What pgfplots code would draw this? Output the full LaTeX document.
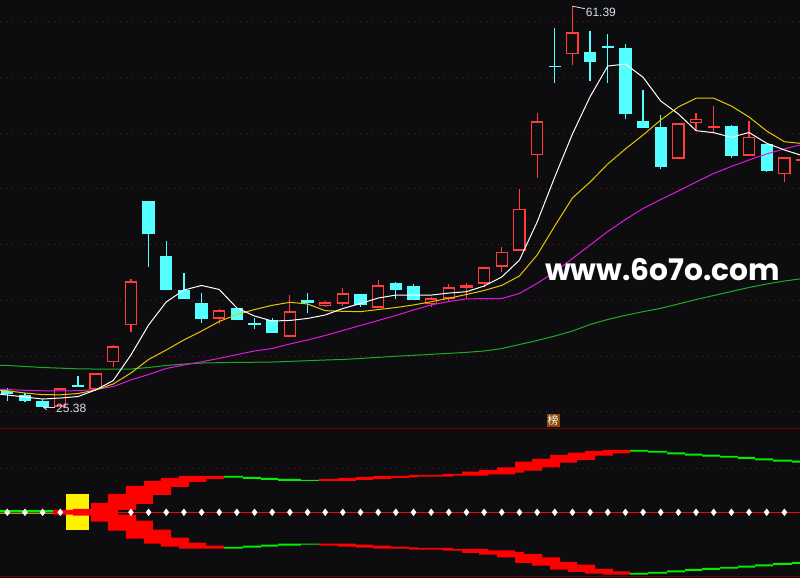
\documentclass[border=0pt]{standalone}
\usepackage{pgfplots}
\pgfplotsset{compat=1.18}
\usepackage{pgfplotstable}
\usetikzlibrary{arrows.meta}
\usepackage{fontspec}
\setmainfont{Liberation Sans}
\newfontfamily\cjk{Noto Sans CJK SC}
\newfontfamily\wmfont{Poppins}

\definecolor{bg}{RGB}{13,13,16}
\definecolor{upred}{RGB}{255,61,61}
\definecolor{dncyan}{RGB}{84,255,255}
\definecolor{maw}{RGB}{255,255,255}
\definecolor{may}{RGB}{230,200,0}
\definecolor{mam}{RGB}{224,24,224}
\definecolor{mag}{RGB}{30,170,40}
\definecolor{gridred}{RGB}{130,20,20}
\definecolor{sepred}{RGB}{115,0,0}
\definecolor{bandred}{RGB}{255,0,0}
\definecolor{bandgreen}{RGB}{0,240,0}
\definecolor{lbl}{RGB}{210,225,240}
\definecolor{tagbrown}{RGB}{140,70,10}

% candles: x = day, o h l c
\pgfplotstableread{
x o h l c
3 25.45 27.10 25.45 27.10
5 27.01 28.45 27.01 28.45
6 29.43 30.99 29.04 30.87
7 32.76 36.88 32.18 36.70
12 33.35 34.22 32.87 34.10
16 31.73 35.47 31.73 34.01
18 34.51 34.96 34.37 34.82
19 34.69 36.10 34.51 35.63
21 34.33 36.82 34.33 36.35
24 34.67 35.32 34.42 35.18
25 35.14 36.46 34.82 36.17
26 36.13 36.55 35.11 36.35
27 36.49 37.96 36.22 37.96
28 38.01 39.75 37.57 39.33
29 39.45 44.99 39.45 43.19
30 48.01 51.78 46.00 51.06
32 57.07 61.39 56.14 59.05
38 47.71 50.88 47.71 50.88
39 50.88 51.78 50.22 51.27
40 50.49 52.43 50.13 50.61
42 47.97 51.06 47.97 49.65
44 46.31 47.83 45.64 47.83
45 47.55 47.70 47.50 47.62
}\up

\pgfplotstableread{
x o h l c
0 26.89 27.13 25.99 26.59
1 26.50 26.71 25.90 25.99
2 25.96 26.14 25.38 25.42
4 27.35 28.21 27.24 27.32
8 43.91 43.91 38.01 40.97
9 38.97 40.32 35.95 35.95
10 35.92 37.42 35.14 35.14
11 34.76 35.65 32.99 33.32
13 34.31 34.31 33.23 33.23
14 32.93 33.41 32.42 32.90
15 33.20 33.38 32.09 32.09
17 35.03 35.65 33.89 34.76
20 35.56 35.56 34.37 34.58
22 36.55 36.64 35.11 35.92
23 36.28 36.46 35.03 35.03
31 56.02 59.43 54.53 55.98
33 57.28 59.19 54.71 56.41
34 57.78 58.90 54.53 57.74
35 57.61 57.99 51.30 51.74
36 51.09 53.87 50.49 50.49
37 50.55 51.63 46.75 46.99
41 50.64 50.70 47.80 47.97
43 49.02 49.02 46.51 46.59
}\dn

% moving averages
\pgfplotstableread{
x ma5 ma10 ma20 ma60
-1 26.68 26.99 27.01 29.19
0 26.50 26.88 26.99 29.15
1 26.32 26.68 26.92 29.06
2 26.14 26.53 26.88 28.97
3 26.23 26.52 26.86 28.91
4 26.36 26.63 26.89 28.85
5 26.95 26.95 26.99 28.83
6 27.80 27.49 27.26 28.83
7 30.09 28.47 27.85 28.83
8 32.78 29.69 28.34 28.97
9 34.85 30.54 28.88 29.15
10 35.92 31.44 29.19 29.28
11 36.33 32.24 29.48 29.37
12 35.97 33.10 29.79 29.40
13 34.31 33.72 30.13 29.43
14 33.59 34.17 30.45 29.44
15 33.14 34.55 30.67 29.46
16 33.19 34.82 31.08 29.52
17 33.37 34.67 31.44 29.58
18 33.68 34.07 31.84 29.64
19 34.26 34.01 32.29 29.69
20 34.71 33.98 32.74 29.78
21 35.20 34.17 33.19 29.88
22 35.47 34.35 33.63 29.98
23 35.47 34.58 34.13 30.06
24 35.47 34.87 34.58 30.15
25 35.65 35.18 34.89 30.24
26 35.77 35.52 35.12 30.33
27 36.28 35.88 35.16 30.45
28 37.09 36.34 35.16 30.67
29 38.61 37.18 35.61 31.03
30 42.02 39.06 36.52 31.39
31 46.06 41.67 37.54 31.79
32 49.92 44.18 38.75 32.24
33 53.27 45.61 39.96 32.83
34 56.02 47.23 41.17 33.28
35 56.20 48.58 42.25 33.65
36 55.01 49.83 43.24 33.98
37 52.88 51.18 44.04 34.28
38 51.72 52.35 44.81 34.67
39 50.22 53.13 45.61 35.07
40 50.04 53.13 46.38 35.43
41 49.63 52.43 47.01 35.79
42 50.06 51.45 47.59 36.15
43 49.09 50.19 48.13 36.46
44 48.49 49.23 48.59 36.73
45 47.99 49.07 48.98 36.94
}\ma

% indicator ribbon, upper half as closed outlines (lower half is the mirror)
\pgfplotstableread{
x v
-0.5 2.0
2.59 2.0
2.59 0
-0.5 0
}\gA
\pgfplotstableread{
x v
2.59 2.3
3.72 2.3
3.72 3.3
4.74 3.3
4.74 9.3
5.70 9.3
5.70 18.3
6.72 18.3
6.72 26.3
7.74 26.3
7.74 31.3
8.70 31.3
8.70 34.3
9.72 34.3
9.72 36.3
12.27 36.3
12.27 33.3
11.25 33.3
11.25 30.3
10.29 30.3
10.29 25.3
9.27 25.3
9.27 17.3
8.25 17.3
8.25 8.3
7.29 8.3
7.29 2.3
6.27 2.3
6.27 0
2.59 0
}\rA
\pgfplotstableread{
x v
12.27 36.3
13.35 36.3
13.35 35.3
14.37 35.3
14.37 34.3
15.33 34.3
15.33 33.3
16.63 33.3
16.63 32.3
17.65 32.3
17.65 31.3
15.33 31.3
15.33 32.3
14.37 32.3
14.37 33.3
13.35 33.3
13.35 34.6
12.27 34.6
}\gB
\pgfplotstableread{
x v
17.65 33.3
18.72 33.3
18.72 34.3
19.75 34.3
19.75 35.3
20.71 35.3
20.71 36.3
22.75 36.3
22.75 37.3
24.67 37.3
24.67 38.3
25.75 38.3
25.75 40.6
26.71 40.6
26.71 42.3
27.73 42.3
27.73 45.0
28.75 45.0
28.75 50.6
29.71 50.6
29.71 53.3
30.73 53.3
30.73 57.3
31.75 57.3
31.75 59.6
32.71 59.6
32.71 61.3
33.73 61.3
33.73 62.3
35.26 62.3
35.26 59.0
34.29 59.0
34.29 56.6
33.28 56.6
33.28 52.3
32.26 52.3
32.26 49.6
31.30 49.6
31.30 45.0
30.28 45.0
30.28 41.6
29.26 41.6
29.26 39.6
28.75 39.6
28.75 38.0
27.22 38.0
27.22 36.6
25.24 36.6
25.24 35.6
23.26 35.6
23.26 35.0
22.75 35.0
22.75 34.3
21.73 34.3
21.73 33.3
20.71 33.3
20.71 32.3
19.75 32.3
19.75 31.3
17.65 31.3
}\rB
\pgfplotstableread{
x v
35.26 62.3
36.28 62.3
36.28 61.3
37.36 61.3
37.36 60.0
38.38 60.0
38.38 58.6
39.34 58.6
39.34 57.6
40.36 57.6
40.36 56.3
41.38 56.3
41.38 55.3
42.34 55.3
42.34 54.0
43.36 54.0
43.36 52.6
44.44 52.6
44.44 51.6
45.50 51.6
45.50 49.6
44.44 49.6
44.44 50.6
43.36 50.6
43.36 52.0
42.34 52.0
42.34 53.3
41.38 53.3
41.38 54.6
40.36 54.6
40.36 55.6
39.34 55.6
39.34 56.6
38.38 56.6
38.38 58.0
37.36 58.0
37.36 59.6
36.28 59.6
36.28 60.6
35.26 60.6
}\gC

\pgfplotsset{
  panel/.style={
    scale only axis, width=800pt,
    xmin=-0.413, xmax=44.886,
    axis line style={draw=none},
    xtick=\empty, ytick=\empty,
  },
  gridline/.style={gridred, line width=1pt, dash pattern=on 1pt off 5pt, forget plot},
  candle/.style 2 args={#1, draw=none, mark=none, forget plot,
    error bars/.cd, y dir=both, y explicit, error mark=none,
    error bar style={draw=#1, solid, line width=#2}},
  ribbon/.style={fill=#1, draw=none, forget plot},
}

\begin{document}
\begin{tikzpicture}
\useasboundingbox (0,0) rectangle (800pt,578pt);
\fill[bg] (0,0) rectangle (800pt,578pt);

\begin{axis}[panel, at={(0pt,150pt)}, anchor=south west, height=428pt,
  ymin=23.54, ymax=61.947]
% price grid every 5
\pgfplotsinvokeforeach{25,30,35,40,45,50,55,60}{
  \addplot[gridline] coordinates {(-0.413,#1) (44.886,#1)};
}
% wicks
\addplot[candle={upred}{1.2pt}] table[x=x, y expr={(\thisrow{h}+\thisrow{l})/2},
  y error expr={(\thisrow{h}-\thisrow{l})/2}] {\up};
\addplot[candle={dncyan}{1.2pt}] table[x=x, y expr={(\thisrow{h}+\thisrow{l})/2},
  y error expr={(\thisrow{h}-\thisrow{l})/2}] {\dn};
% bodies
\addplot[candle={dncyan}{12.4pt}] table[x=x, y expr={(\thisrow{o}+\thisrow{c})/2},
  y error expr={max(abs(\thisrow{o}-\thisrow{c})/2,0.065)}] {\dn};
\addplot[candle={upred}{12.4pt}] table[x=x, y expr={(\thisrow{o}+\thisrow{c})/2},
  y error expr={max(abs(\thisrow{o}-\thisrow{c})/2,0.065)}] {\up};
\addplot[candle={bg}{10pt}] table[x=x, y expr={(\thisrow{o}+\thisrow{c})/2},
  y error expr={max(abs(\thisrow{o}-\thisrow{c})/2-0.12,0)}] {\up};
% moving averages
\addplot[mag, line width=1pt, mark=none] table[x=x, y=ma60] {\ma};
\addplot[mam, line width=1pt, mark=none] table[x=x, y=ma20] {\ma};
\addplot[may, line width=1pt, mark=none] table[x=x, y=ma10] {\ma};
\addplot[maw, line width=1pt, mark=none] table[x=x, y=ma5] {\ma};
% high / low marks
\draw[lbl, line width=0.8pt] (axis cs:32,61.39) -- (axis cs:32.7,61.17);
\node[lbl, anchor=west, inner sep=0pt, font=\fontsize{12}{12}\selectfont] at (axis cs:32.75,60.87) {61.39};
\draw[lbl, line width=0.8pt, -{Straight Barb[length=3pt,width=5pt]}] (axis cs:2.72,25.40) -- (axis cs:2.02,25.40);
\node[lbl, anchor=west, inner sep=0pt, font=\fontsize{12}{12}\selectfont] at (axis cs:2.76,25.33) {25.38};
\node[fill=tagbrown, text=white, inner sep=1pt, font=\cjk\fontsize{11}{11}\selectfont] at (axis cs:30.9,24.21) {榜};
\node[anchor=base west, inner sep=0pt, text=white] at (axis cs:30.45,36.82)
  {\resizebox{235pt}{!}{\wmfont\bfseries www.6o7o.com}};
\end{axis}

\begin{axis}[panel, at={(0pt,0pt)}, anchor=south west, height=150pt,
  ymin=-65.7, ymax=84.3]
\addplot[gridline] coordinates {(-0.413,44) (44.886,44)};
\addplot[sepred, line width=1pt, forget plot] coordinates {(-0.413,83.8) (44.886,83.8)};
\addplot[sepred, line width=1pt, forget plot] coordinates {(-0.413,-63.7) (44.886,-63.7)};
\addplot[yellow, line width=23pt, forget plot] coordinates {(4,18.3) (4,-17.7)};
\addplot[ribbon=bandgreen] table[x=x, y=v] {\gA} -- cycle;
\addplot[ribbon=bandred]   table[x=x, y=v] {\rA} -- cycle;
\addplot[ribbon=bandgreen] table[x=x, y=v] {\gB} -- cycle;
\addplot[ribbon=bandred]   table[x=x, y=v] {\rB} -- cycle;
\addplot[ribbon=bandgreen] table[x=x, y=v] {\gC} -- cycle;
\addplot[ribbon=bandgreen] table[x=x, y expr=-\thisrow{v}] {\gA} -- cycle;
\addplot[ribbon=bandred]   table[x=x, y expr=-\thisrow{v}] {\rA} -- cycle;
\addplot[ribbon=bandgreen] table[x=x, y expr=-\thisrow{v}] {\gB} -- cycle;
\addplot[ribbon=bandred]   table[x=x, y expr=-\thisrow{v}] {\rB} -- cycle;
\addplot[ribbon=bandgreen] table[x=x, y expr=-\thisrow{v}] {\gC} -- cycle;
\addplot[only marks, mark=diamond*, mark size=3.4pt, mark options={fill=white, draw=white}]
  coordinates {(0,0) (1,0) (2,0) (3,0) (7,0) (8,0) (9,0) (10,0) (11,0) (12,0) (13,0)
  (14,0) (15,0) (16,0) (17,0) (18,0) (19,0) (20,0) (21,0) (22,0) (23,0) (24,0) (25,0)
  (26,0) (27,0) (28,0) (29,0) (30,0) (31,0) (32,0) (33,0) (34,0) (35,0) (36,0) (37,0)
  (38,0) (39,0) (40,0) (41,0) (42,0) (43,0) (44,0) (45,0)};
\addplot[bandred, line width=1.3pt] coordinates {(-0.413,0) (44.886,0)};
\end{axis}
\end{tikzpicture}
\end{document}
